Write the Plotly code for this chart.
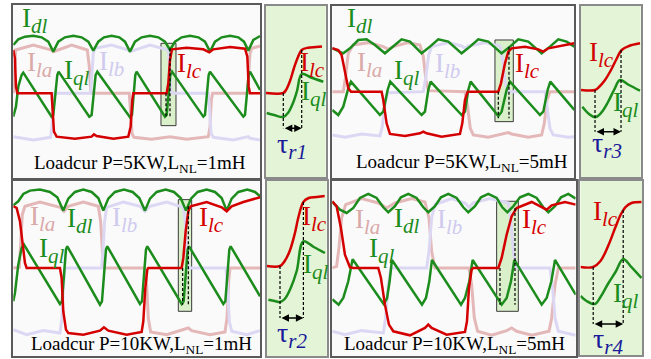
import plotly.graph_objects as go

FONT = "Liberation Serif"
RED = "#d40000"
GREEN = "#1c8c1c"
PINK = "#e4b8b8"
PINK_TXT = "#d9a9a9"
LAV = "#dcd8f4"
LAV_TXT = "#cfcaee"
NAVY = "#1a1a9a"
ZOOM_BG = "#e3f5d6"
BOX_BG = "#daf0cb"

# ---------------- Panel A: P=5KW, L_NL=1mH (time units, current units) ----------------
a_ila = [(0,0),(3,80),(7,130),(60,145),(115,130),(120,125),(175,145),(222,130),(228,80),(232,10),(236,0),
         (348,0),(352,-50),(356,-120),(362,-132),(415,-138),(470,-130),(520,-138),(585,-130),(590,-100),
         (594,-20),(598,0),(702,0),(706,60),(710,120),(715,135),(740,142)]
a_ilb = [(0,-130),(60,-140),(112,-132),(116,-100),(120,-20),(124,0),(232,0),(236,60),(240,120),(245,135),
         (295,145),(345,130),(350,125),(410,145),(465,130),(469,80),(473,10),(477,0),(585,0),(589,-50),
         (593,-120),(600,-132),(660,-140),(705,-130),(710,-135),(740,-140)]
a_idl = [(0,145),(15,162),(35,170),(60,173),(85,168),(105,155),(120,125),(135,155),(155,168),(180,173),
         (205,168),(225,155),(240,128),(255,155),(272,168),(295,173),(318,168),(335,155),(350,125),(365,155),
         (385,168),(410,173),(435,168),(455,155),(470,130),(485,155),(505,168),(530,173),(555,168),(575,155),
         (590,125),(605,155),(625,168),(650,173),(675,168),(692,155),(705,128),(720,160),(740,172)]
a_iql = [(0,-70),(8,-40),(15,20),(25,55),(30,62),(115,-70),(120,-65),(125,-10),(132,55),(136,65),(228,-70),
         (235,-65),(240,-10),(247,55),(252,65),(350,-72),(356,-65),(360,-10),(366,55),(370,65),(455,-70),
         (460,-65),(465,-10),(471,55),(476,65),(570,-70),(575,-65),(580,-10),(586,55),(590,65),(690,-70),
         (695,-65),(700,-10),(706,55),(710,65),(740,10)]
a_ilc = [(0,130),(5,105),(8,20),(12,0),(115,0),(118,-50),(122,-115),(130,-130),(185,-136),(235,-130),
         (242,-123),(250,-128),(300,-136),(345,-130),(352,-100),(357,-20),(360,0),(460,0),(465,30),(470,100),
         (476,132),(520,137),(570,132),(588,123),(600,132),(650,139),(695,134),(702,110),(706,20),(710,0),(740,0)]

# ---------------- Panel B: P=10KW, L_NL=1mH ----------------
b_ila = [(0,0),(18,2),(22,70),(27,160),(35,185),(80,198),(140,182),(152,170),(165,185),(210,198),(255,185),
         (262,140),(268,40),(274,0),(395,0),(400,-50),(405,-150),(412,-192),(460,-200),(515,-185),(525,-180),
         (535,-188),(590,-200),(635,-192),(641,-150),(646,-40),(650,0),(740,0)]
b_ilb = [(0,-185),(40,-200),(90,-188),(140,-195),(146,-150),(150,-60),(155,0),(265,0),(269,50),(274,140),
         (280,182),(330,198),(380,185),(395,170),(410,185),(460,198),(510,182),(515,150),(520,50),(525,0),
         (638,0),(643,-60),(648,-160),(655,-190),(700,-200),(740,-188)]
b_idl = [(0,188),(15,200),(30,222),(50,232),(80,235),(110,228),(132,212),(150,172),(165,208),(185,228),
         (210,235),(235,228),(255,210),(270,172),(285,208),(305,228),(332,235),(358,228),(378,210),(395,172),
         (410,208),(430,228),(457,235),(482,228),(502,210),(518,172),(533,208),(553,228),(580,235),(605,228),
         (625,210),(640,172),(655,208),(675,228),(702,235),(725,228),(740,215)]
b_iql = [(0,-100),(5,-75),(15,10),(25,60),(32,70),(140,-108),(146,-100),(152,-10),(158,55),(162,65),
         (260,-110),(266,-100),(272,-10),(278,55),(282,65),(380,-108),(386,-100),(392,-10),(398,55),(402,65),
         (505,-108),(511,-100),(517,-10),(523,55),(527,65),(630,-108),(636,-100),(642,-10),(648,55),(652,65),
         (740,-85)]
b_ilc = [(0,185),(10,180),(20,140),(28,70),(35,15),(40,0),(140,0),(145,-30),(150,-130),(158,-185),(165,-195),
         (210,-200),(260,-188),(272,-178),(285,-188),(340,-200),(385,-192),(390,-160),(396,-60),(402,-5),
         (405,0),(505,0),(510,30),(517,110),(525,170),(532,185),(580,198),(625,182),(640,170),(655,185),
         (690,198),(740,212)]

# ---------------- Panel C: P=5KW, L_NL=5mH ----------------
c_ila = [(0,0),(33,0),(40,45),(48,115),(63,140),(108,147),(153,135),(168,127),(183,135),(228,147),(263,140),
         (273,105),(281,35),(288,3),(398,0),(406,-45),(414,-110),(423,-130),(468,-137),(518,-127),(528,-123),
         (538,-127),(588,-137),(628,-130),(636,-95),(644,-25),(653,0),(726,0)]
c_ilb = [(0,-130),(38,-137),(88,-127),(143,-133),(150,-105),(158,-35),(166,-3),(273,0),(281,45),(289,110),
         (298,135),(348,147),(388,137),(398,130),(408,137),(458,147),(503,137),(511,95),(519,25),(528,0),
         (638,0),(645,-45),(653,-110),(663,-130),(708,-137),(726,-135)]
c_idl = [(0,130),(33,115),(53,130),(78,155),(103,157),(128,140),(158,115),(183,135),(208,157),(233,150),
         (268,115),(293,135),(318,157),(348,150),(388,115),(413,135),(438,157),(468,150),(508,115),(533,135),
         (558,157),(588,150),(628,115),(653,135),(678,157),(703,150),(726,135)]
c_iql = [(0,-55),(18,-70),(33,-45),(48,10),(56,30),(143,-70),(153,-60),(166,5),(174,30),(268,-70),(278,-60),
         (288,5),(295,30),(388,-70),(398,-60),(408,5),(415,30),(498,-73),(508,-60),(523,5),(533,30),(623,-70),
         (633,-60),(646,5),(654,30),(726,-55)]
c_ilc = [(0,130),(18,125),(28,110),(38,55),(48,10),(56,0),(148,0),(153,-25),(163,-95),(173,-127),(218,-133),
         (263,-125),(273,-120),(283,-125),(328,-135),(383,-127),(390,-95),(398,-25),(406,0),(498,0),(506,25),
         (518,85),(528,120),(538,130),(578,135),(618,127),(633,120),(648,130),(688,137),(726,145)]

# ---------------- Panel D: P=10KW, L_NL=5mH ----------------
d_ila = [(0,0),(13,5),(20,60),(28,150),(40,190),(88,208),(138,195),(163,180),(188,195),(238,208),(278,198),
         (290,150),(298,50),(308,0),(410,0),(418,-50),(426,-150),(436,-190),(478,-202),(523,-188),(538,-180),
         (553,-190),(598,-202),(650,-190),(658,-150),(668,-50),(678,0),(730,0)]
d_ilb = [(0,-190),(38,-200),(88,-188),(153,-195),(160,-150),(168,-50),(176,0),(283,0),(290,50),(298,150),
         (308,190),(358,208),(398,195),(410,182),(423,195),(473,208),(528,195),(536,140),(544,40),(553,0),
         (653,0),(661,-60),(668,-150),(678,-190),(730,-202)]
d_idl = [(0,198),(23,175),(43,165),(63,180),(83,210),(108,222),(133,210),(153,182),(168,167),(188,185),
         (206,212),(228,222),(253,210),(273,182),(288,167),(308,185),(326,212),(348,222),(373,210),(393,182),
         (408,167),(428,185),(446,212),(468,222),(493,210),(510,182),(525,167),(543,185),(563,212),(588,222),
         (613,210),(633,182),(648,167),(668,185),(686,212),(708,222),(730,208)]
d_iql = [(0,-94),(19,-110),(33,-90),(48,-40),(61,26),(154,-108),(164,-92),(172,-40),(179,24),(269,-110),
         (281,-90),(291,-40),(299,24),(386,-110),(398,-90),(411,-40),(421,24),(508,-110),(523,-90),(536,-40),
         (546,24),(628,-110),(643,-90),(657,-40),(668,24),(730,-80)]
d_ilc = [(0,200),(13,185),(26,120),(38,40),(53,2),(63,0),(138,0),(146,-30),(158,-110),(170,-170),(183,-190),
         (233,-202),(278,-180),(288,-170),(298,-180),(343,-200),(398,-192),(404,-160),(410,-60),(418,-5),
         (423,0),(498,0),(508,30),(523,100),(538,155),(553,180),(598,198),(633,180),(643,175),(658,188),
         (698,198),(730,190)]

# ---------------- Zoomed commutation windows ----------------
z1_ilc = [(0,0),(17.3,0),(20,3),(24,12),(28,25),(32,36),(35.7,43),(42,45.3),(50,46),(56,46.5)]
z1_iql = [(0.7,-20),(8,-22),(17.3,-24),(22,-20),(27,-10),(31,2),(35.7,19),(45,15.5),(57.3,11.3)]
z2_ilc = [(0,0),(13.3,0),(18,5),(23,15),(28,32),(32,50),(36.7,64),(42,68),(50,69),(58,70)]
z2_iql = [(1.7,-33.7),(8,-35),(13.3,-36),(18,-33),(24,-22),(30,-5),(36.7,24.7),(47,19),(58.3,13)]
z3_ilc = [(0,0),(14,0),(18,3),(24,10),(30,20),(35,30),(40.7,40),(48,44),(59,46.7)]
z3_iql = [(1.3,-16.7),(8,-24),(14,-27.3),(20,-23),(27,-12),(33,0),(39,10),(48,5),(59,-0.7)]
z4_ilc = [(0,0),(12.7,0),(20,6),(28,22),(35,40),(40,52),(45,60),(51,64),(61,65)]
z4_iql = [(0,-29),(6,-34),(14.3,-37),(20,-30),(28,-16),(35,-5),(42.7,8),(50,1),(61,-11)]

# commutation interval [start, end] for each window, and arrow level
z1_tau = (17.3, 35.7, -35.3)
z2_tau = (13.3, 36.7, -52)
z3_tau = (14, 40, -41.7)
z4_tau = (12.7, 42.7, -57)

captions = ["Loadcur P=5KW,L<sub>NL</sub>=1mH", "Loadcur P=10KW,L<sub>NL</sub>=1mH",
            "Loadcur P=5KW,L<sub>NL</sub>=5mH", "Loadcur P=10KW,L<sub>NL</sub>=5mH"]
tau_subs = ["r1", "r2", "r3", "r4"]

SUB = "<sub><span style='font-size:21px'><i>{}</i></span></sub>"

def cur(s):
    return "I" + SUB.format(s)

fig = go.Figure()

def axn(i):
    return ("x" if i == 1 else f"x{i}", "y" if i == 1 else f"y{i}")

def add_line(i, pts, color, width, shape="linear"):
    xa, ya = axn(i)
    fig.add_trace(go.Scatter(x=[p[0] for p in pts], y=[p[1] for p in pts], mode="lines",
                             line=dict(color=color, width=width, shape=shape),
                             xaxis=xa, yaxis=ya, hoverinfo="skip", showlegend=False))

def lab(i, x, y, text, color, size=27, xanchor="left"):
    xa, ya = axn(i)
    fig.add_annotation(x=x, y=y, xref=xa, yref=ya, text=text, showarrow=False,
                       xanchor=xanchor, yanchor="middle",
                       font=dict(family=FONT, size=size, color=color))

def vdash(i, x, y0, y1):
    xa, ya = axn(i)
    fig.add_shape(type="line", xref=xa, yref=ya, x0=x, x1=x, y0=y0, y1=y1,
                  line=dict(color="black", width=1.2, dash="3px,2px"))

mains = [
    dict(i=1, d=(a_ila, a_ilb, a_idl, a_iql, a_ilc), xr=[0, 740], yr=[-255, 265],
         dx=[0.0204, 0.3994], dy=[0.5033, 0.9861],
         box=(443, 488, -97, 150), dash=[(458, 0, -70), (470, 135, -70)],
         labs=dict(dl=(20, 218), la=(35, 86), ql=(145, 63), lb=(250, 90), lc=(485, 83)),
         cap=(380, -213), captxt=captions[0]),
    dict(i=5, d=(b_ila, b_ilb, b_idl, b_iql, b_ilc), xr=[0, 740], yr=[-265, 260],
         dx=[0.0204, 0.3994], dy=[0.0075, 0.4950],
         box=(495, 535, -130, 205), dash=[(508, 0, -110), (525, 185, -110)],
         labs=dict(la=(45, 148), dl=(155, 143), lb=(290, 146), ql=(70, 53), lc=(550, 146)),
         cap=(385, -230), captxt=captions[1]),
    dict(i=3, d=(c_ila, c_ilb, c_idl, c_iql, c_ilc), xr=[0, 726], yr=[-260, 257],
         dx=[0.5104, 0.8822], dy=[0.5033, 0.9833],
         box=(488, 543, -90, 155), dash=[(498, 0, -80), (530, 135, -80)],
         labs=dict(dl=(38, 213), la=(68, 80), ql=(178, 58), lb=(303, 78), lc=(543, 78)),
         cap=(390, -215), captxt=captions[2]),
    dict(i=7, d=(d_ila, d_ilb, d_idl, d_iql, d_ilc), xr=[0, 730], yr=[-265, 260],
         dx=[0.5104, 0.8843], dy=[0.0075, 0.4950],
         box=(493, 558, -130, 200), dash=[(503, 0, -110), (548, 180, -110)],
         labs=dict(la=(63, 140), dl=(178, 143), lb=(308, 138), ql=(103, 53), lc=(563, 138)),
         cap=(368, -230), captxt=captions[3]),
]

zooms = [
    dict(i=2, d=(z1_ilc, z1_iql), tau=z1_tau, xr=[0, 59.7], yr=[-84, 87],
         dx=[0.4086, 0.5003], dy=[0.5070, 0.9833], top=43,
         labs=dict(lc=(47, 28), ql=(48, -1), tau=(25.7, -53)), t=tau_subs[0]),
    dict(i=6, d=(z2_ilc, z2_iql), tau=z2_tau, xr=[0, 60], yr=[-90, 85],
         dx=[0.4097, 0.5018], dy=[0.0084, 0.4958], top=64,
         labs=dict(lc=(48.3, 47), ql=(49.3, -1), tau=(25.3, -69)), t=tau_subs[1]),
    dict(i=4, d=(z3_ilc, z3_iql), tau=z3_tau, xr=[0, 59.7], yr=[-87, 84],
         dx=[0.8925, 0.9842], dy=[0.5070, 0.9833], top=40,
         labs=dict(lc=(20.7, 35), ql=(45, -15), tau=(25.7, -55)), t=tau_subs[2]),
    dict(i=8, d=(z4_ilc, z4_iql), tau=z4_tau, xr=[0, 61.5], yr=[-88, 86],
         dx=[0.8917, 0.9862], dy=[0.0111, 0.4958], top=57,
         labs=dict(lc=(25, 54), ql=(45, -28), tau=(27.5, -74)), t=tau_subs[3]),
]

layout = {}
for m in mains:
    i = m["i"]
    xa, ya = axn(i)
    ila, ilb, idl, iql, ilc = m["d"]
    add_line(i, ila, PINK, 3)
    add_line(i, ilb, LAV, 3)
    add_line(i, idl, GREEN, 2.5)
    add_line(i, iql, GREEN, 2.5)
    add_line(i, ilc, RED, 2.5)
    x0, x1, y0, y1 = m["box"]
    fig.add_shape(type="rect", xref=xa, yref=ya, x0=x0, x1=x1, y0=y0, y1=y1,
                  fillcolor=BOX_BG, line=dict(color="#3a3a3a", width=1), layer="below")
    for (xx, ya0, ya1) in m["dash"]:
        vdash(i, xx, ya0, ya1)
    L = m["labs"]
    lab(i, *L["dl"], cur("dl"), GREEN)
    lab(i, *L["la"], cur("la"), PINK_TXT)
    lab(i, *L["lb"], cur("lb"), LAV_TXT)
    lab(i, *L["ql"], cur("ql"), GREEN)
    lab(i, *L["lc"], cur("lc"), RED)
    lab(i, *m["cap"], m["captxt"], "black", size=19, xanchor="center")
    key = "" if i == 1 else str(i)
    layout["xaxis" + key] = dict(domain=m["dx"], range=m["xr"], anchor=ya)
    layout["yaxis" + key] = dict(domain=m["dy"], range=m["yr"], anchor=xa)

zoom_keys = set()
for z in zooms:
    i = z["i"]
    xa, ya = axn(i)
    fig.add_shape(type="rect", xref=xa + " domain", yref=ya + " domain", x0=0, x1=1, y0=0, y1=1,
                  fillcolor=ZOOM_BG, line=dict(width=0), layer="below")
    ilc, iql = z["d"]
    add_line(i, iql, GREEN, 2.5, "spline")
    add_line(i, ilc, RED, 2.5, "spline")
    ts, te, ylev = z["tau"]
    vdash(i, ts, 0, ylev)
    vdash(i, te, z["top"], ylev)
    fig.add_annotation(x=te, y=ylev, ax=ts, ay=ylev, xref=xa, yref=ya, axref=xa, ayref=ya,
                       text="", showarrow=True, arrowhead=2, startarrowhead=2, arrowside="end+start",
                       arrowsize=1, arrowwidth=1.5, arrowcolor="black", standoff=0, startstandoff=0)
    L = z["labs"]
    lab(i, *L["lc"], cur("lc"), RED, xanchor="center")
    lab(i, *L["ql"], cur("ql"), GREEN, xanchor="center")
    lab(i, *L["tau"], "τ" + SUB.format(z["t"]), NAVY, size=28, xanchor="center")
    key = str(i)
    zoom_keys.update({"xaxis" + key, "yaxis" + key})
    layout["xaxis" + key] = dict(domain=z["dx"], range=z["xr"], anchor=ya)
    layout["yaxis" + key] = dict(domain=z["dy"], range=z["yr"], anchor=xa)

for k, v in layout.items():
    v.update(showticklabels=False, showgrid=False, zeroline=False, ticks="",
             showline=True, mirror=True, linewidth=1.5,
             linecolor="#8a8a8a" if k in zoom_keys else "#5a5a5a", fixedrange=True)

fig.update_layout(**layout)
fig.update_layout(width=651, height=359, margin=dict(l=0, r=0, t=0, b=0),
                  plot_bgcolor="#fafafa", paper_bgcolor="white", showlegend=False,
                  font=dict(family=FONT))
fig.write_html("out.html", config=dict(displayModeBar=False),
               post_script="document.body.style.margin='0';document.body.style.overflow='hidden';")
